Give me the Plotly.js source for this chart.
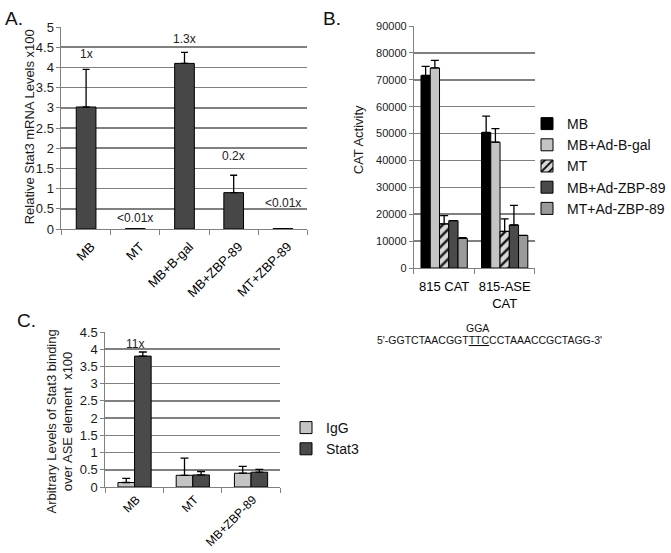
<!DOCTYPE html>
<html><head><meta charset="utf-8">
<script src="https://cdn.plot.ly/plotly-3.0.1.min.js"></script>
<style>html,body{margin:0;padding:0;background:#fff}#chart{width:671px;height:553px}</style>
</head><body><div id="chart"></div>
<script>
// ---------- Panel A data ----------
const catsA = ["MB", "MT", "MB+B-gal", "MB+ZBP-89", "MT+ZBP-89"];
const valsA = [3.02, 0.01, 4.10, 0.90, 0.01];
const errA = [0.93, 0, 0.27, 0.43, 0];
const foldA = ["1x", "<0.01x", "1.3x", "0.2x", "<0.01x"];
const foldAy = [4.33, 0.27, 4.70, 1.80, 0.65];
const titleA = "Relative Stat3 mRNA Levels x100";

// ---------- Panel B data ----------
const catsB = ["815 CAT", "815-ASE<br>CAT"];
const namesB = ["MB", "MB+Ad-B-gal", "MT", "MB+Ad-ZBP-89", "MT+Ad-ZBP-89"];
const valsB_MB = [71600, 50400];
const valsB_Bgal = [74400, 46800];
const valsB_MT = [16400, 13600];
const valsB_MBZBP = [17600, 16000];
const valsB_MTZBP = [11000, 12100];
const errB_MB = [3400, 6100];
const errB_Bgal = [2800, 5000];
const errB_MT = [3100, 4700];
const errB_MBZBP = [0, 7300];
const errB_MTZBP = [300, 0];
const titleB = "CAT Activity";

// ---------- Panel C data ----------
const catsC = ["MB", "MT", "MB+ZBP-89"];
const namesC = ["IgG", "Stat3"];
const valsC_IgG = [0.13, 0.34, 0.40];
const valsC_Stat3 = [3.80, 0.35, 0.43];
const errC_IgG = [0.12, 0.50, 0.20];
const errC_Stat3 = [0.12, 0.10, 0.08];
const foldC = ["11x"];
const foldCy = [4.15];
const titleC = "Arbitrary Levels of Stat3 binding<br>over ASE element  x100";

const FONT = "'Liberation Sans', Arial, sans-serif";
const GRID = "#808080";
const zeros = a => a.map(() => 0);
const err = (a, w) => ({type: "data", array: a, arrayminus: zeros(a), symmetric: false,
  color: "#000", thickness: 1.3, width: w});
const outline = {color: "#000", width: 1};

const data = [];
// A
data.push({type: "bar", x: catsA, y: valsA, xaxis: "x", yaxis: "y", width: 0.4,
  marker: {color: "#474747", line: outline}, error_y: err(errA, 3.5), showlegend: false});

// B
const bSeries = [valsB_MB, valsB_Bgal, valsB_MT, valsB_MBZBP, valsB_MTZBP];
const bErr = [errB_MB, errB_Bgal, errB_MT, errB_MBZBP, errB_MTZBP];
const bColors = ["#000000", "#c4c4c4", "#c8c8c8", "#4a4a4a", "#9a9a9a"];
const bw = 0.153;
bSeries.forEach((vals, i) => {
  const m = {color: bColors[i], line: outline};
  if (i === 2) m.pattern = {shape: "/", fgcolor: "#1a1a1a", bgcolor: "#d8d8d8", size: 7, solidity: 0.35};
  data.push({type: "bar", x: catsB, y: vals, name: namesB[i], xaxis: "x2", yaxis: "y2",
    width: bw, offset: -2.5 * bw + i * bw, marker: m, error_y: err(bErr[i], 4),
    legend: "legend", legendgroup: "b" + i});
});

// C
const cSeries = [valsC_IgG, valsC_Stat3];
const cErr = [errC_IgG, errC_Stat3];
const cColors = ["#c4c4c4", "#4a4a4a"];
const cw = 0.285;
cSeries.forEach((vals, i) => {
  data.push({type: "bar", x: catsC, y: vals, name: namesC[i], xaxis: "x3", yaxis: "y3",
    width: cw, offset: -cw + i * cw, marker: {color: cColors[i], line: outline},
    error_y: err(cErr[i], 4), legend: "legend2", legendgroup: "c" + i});
});

const W = 671, H = 553;
const px = v => v / W, py = v => 1 - v / H;

function yax(domainTop, domainBot, range, dtick, extra) {
  return Object.assign({
    domain: [py(domainBot), py(domainTop)], range: range, dtick: dtick,
    showgrid: true, gridcolor: GRID, gridwidth: 1.5, zeroline: false,
    showline: true, linecolor: GRID, linewidth: 1, ticks: "outside", ticklen: 4, tickcolor: GRID,
    tickfont: {family: FONT, size: 13, color: "#1a1a1a"},
    fixedrange: true
  }, extra || {});
}
function xax(l, r, anchor, angle, fsize, extra) {
  return Object.assign({
    domain: [px(l), px(r)], anchor: anchor, type: "category",
    showgrid: false, zeroline: false, showline: true, linecolor: GRID, linewidth: 1,
    ticks: "outside", ticklen: 5, tickcolor: GRID, tickson: "boundaries",
    tickangle: angle, tickfont: {family: FONT, size: fsize, color: "#000"}, fixedrange: true
  }, extra || {});
}

const annotations = [];
catsA.forEach((c, i) => annotations.push({x: c, y: foldAy[i], xref: "x", yref: "y", text: foldA[i],
  showarrow: false, font: {family: FONT, size: 12, color: "#222"}}));
annotations.push({x: catsC[0], y: foldCy[0], xref: "x3", yref: "y3", text: foldC[0], showarrow: false,
  font: {family: FONT, size: 12, color: "#222"}});
const titleFont = {family: FONT, size: 13, color: "#1a1a1a"};
annotations.push({x: px(30), y: py(127), xref: "paper", yref: "paper", xanchor: "center", yanchor: "middle",
  text: titleA, textangle: -90, showarrow: false, font: titleFont});
annotations.push({x: px(367), y: py(140), xref: "paper", yref: "paper", xanchor: "center", yanchor: "middle",
  text: titleB, textangle: -90, showarrow: false, font: titleFont});
annotations.push({x: px(61), y: py(422), xref: "paper", yref: "paper", xanchor: "center", yanchor: "middle",
  text: titleC, textangle: -90, showarrow: false, font: titleFont});
const panelFont = {family: FONT, size: 19, color: "#111"};
annotations.push({x: px(3), y: py(6), xref: "paper", yref: "paper", xanchor: "left", yanchor: "top",
  text: "A.", showarrow: false, font: panelFont});
annotations.push({x: px(329), y: py(6), xref: "paper", yref: "paper", xanchor: "left", yanchor: "top",
  text: "B.", showarrow: false, font: panelFont});
annotations.push({x: px(15), y: py(308), xref: "paper", yref: "paper", xanchor: "left", yanchor: "top",
  text: "C.", showarrow: false, font: panelFont});
annotations.push({x: px(489), y: py(328), xref: "paper", yref: "paper", xanchor: "center", yanchor: "middle",
  text: "GGA", showarrow: false, font: {family: FONT, size: 10.5, color: "#111"}});
annotations.push({x: px(501), y: py(340), xref: "paper", yref: "paper", xanchor: "center", yanchor: "middle",
  text: "5'-GGTCTAACGGT<u>TTC</u>CCTAAACCGCTAGG-3'", showarrow: false,
  font: {family: FONT, size: 10.5, color: "#111"}});

const layout = {
  width: W, height: H, margin: {l: 0, r: 0, t: 0, b: 0},
  paper_bgcolor: "#fff", plot_bgcolor: "#fff", barmode: "overlay",
  font: {family: FONT},
  xaxis: xax(63, 315, "y", -45, 13, {ticklabelstandoff: 4, ticklabelshift: 5}),
  yaxis: yax(27, 229, [0, 5], 0.5, {anchor: "x"}),
  xaxis2: xax(424, 548, "y2", 0, 13, {ticklabelstandoff: 6}),
  yaxis2: yax(26, 268, [0, 90000], 10000, {anchor: "x2", tickformat: "d",
    tickfont: {family: FONT, size: 11, color: "#1a1a1a"}}),
  xaxis3: xax(108, 287, "y3", -45, 12, {ticklabelstandoff: 0, ticklabelshift: 2}),
  yaxis3: yax(332, 487, [0, 4.5], 0.5, {anchor: "x3"}),
  showlegend: true,
  legend: {x: px(540), y: py(108), xanchor: "left", yanchor: "top", bgcolor: "rgba(0,0,0,0)",
    font: {family: FONT, size: 14, color: "#111"}, tracegroupgap: 2, traceorder: "normal"},
  legend2: {x: px(293), y: py(412), xanchor: "left", yanchor: "top", bgcolor: "rgba(0,0,0,0)",
    font: {family: FONT, size: 14, color: "#111"}, tracegroupgap: 0, traceorder: "normal"},
  annotations: annotations
};

Plotly.newPlot("chart", data, layout, {displayModeBar: false, staticPlot: true});
</script></body></html>
